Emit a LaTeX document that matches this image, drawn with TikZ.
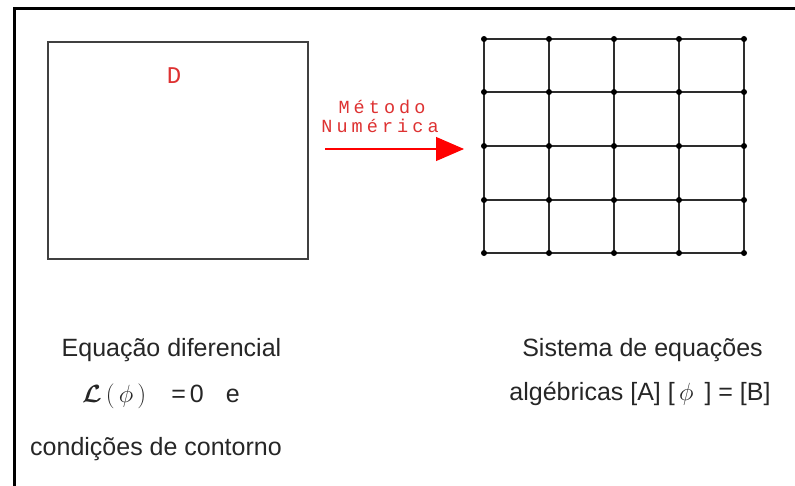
\documentclass[tikz,border=0pt]{standalone}
\usepackage{amsmath,amssymb,bm}
\usepackage{fontspec}
\setmainfont{Liberation Sans}
\newfontfamily\cadfont[LetterSpace=22]{Liberation Mono}
\newfontfamily\cadD{Liberation Mono}
\usetikzlibrary{arrows.meta}
\definecolor{cadred}{RGB}{222,50,50}
\definecolor{gridgray}{RGB}{45,45,45}
\tikzset{
  frameline/.style={line width=3pt,black},
  boxline/.style={line width=1.6pt,draw=black!75},
  gridline/.style={line width=2pt,gridgray},
  griddot/.style={circle,fill=black,inner sep=0pt,minimum size=6pt},
  redlabel/.style={text=cadred,font=\cadfont\fontsize{18.5}{20}\selectfont,inner sep=0pt,anchor=base},
  bodytext/.style={font=\fontsize{25}{28}\selectfont,text=black!85,inner sep=0pt,anchor=base},
  numarrow/.style={red,line width=1.1pt,-{Triangle[length=28pt,width=24pt]}}
}
\begin{document}
\begin{tikzpicture}[x=1pt,y=-1pt]
\useasboundingbox (0,0) rectangle (795,485);
\fill[white] (0,0) rectangle (795,485);
% outer frame (open at right and bottom)
\coordinate (f1) at (14,490);
\coordinate (f2) at (14,8);
\coordinate (f3) at (800,8);
\draw[frameline] (f1) -- (f2) -- (f3);
% domain box
\node[boxline,draw,minimum width=260pt,minimum height=217pt,anchor=north west,inner sep=0pt] (dom) at (47,41) {};
\node[text=cadred,font=\cadD\fontsize{24}{26}\selectfont,inner sep=0pt,anchor=base] (dlab) at (174,83) {D};
% arrow and label
\node[redlabel] (met) at (382,113.5) {Método};
\node[redlabel] (num) at (380,132.5) {Numérica};
\coordinate (a1) at (325,149);
\coordinate (a2) at (464,149);
\draw[numarrow] (a1) -- (a2);
% grid
\foreach \i/\x in {1/484,2/549,3/614,4/679,5/744}{
  \foreach \j/\y in {1/39,2/92,3/146,4/200,5/253}{
    \coordinate (g\i\j) at (\x,\y);
  }
}
\foreach \i in {1,...,5}{
  \draw[gridline] (g\i1) -- (g\i5);
  \draw[gridline] (g1\i) -- (g5\i);
}
\foreach \i in {1,...,5}{
  \foreach \j in {1,...,5}{
    \node[griddot] (d\i\j) at (g\i\j) {};
  }
}
% texts
\node[bodytext] (t1) at (171.5,356) {Equação diferencial};
\node[bodytext,anchor=base west] (t2) at (82,402) {$\bm{\mathcal{L}}\,\mathit{(}\,\phi\,\mathit{)}$\hspace{25pt}=\hspace{4pt}0\hspace{22pt}e};
\node[bodytext] (t3) at (156,455) {condições de contorno};
\node[bodytext] (t4) at (642.5,356) {Sistema de equações};
\node[bodytext] (t5) at (640,400) {algébricas [A] [\,$\phi$\, ] = [B]};
\end{tikzpicture}
\end{document}
